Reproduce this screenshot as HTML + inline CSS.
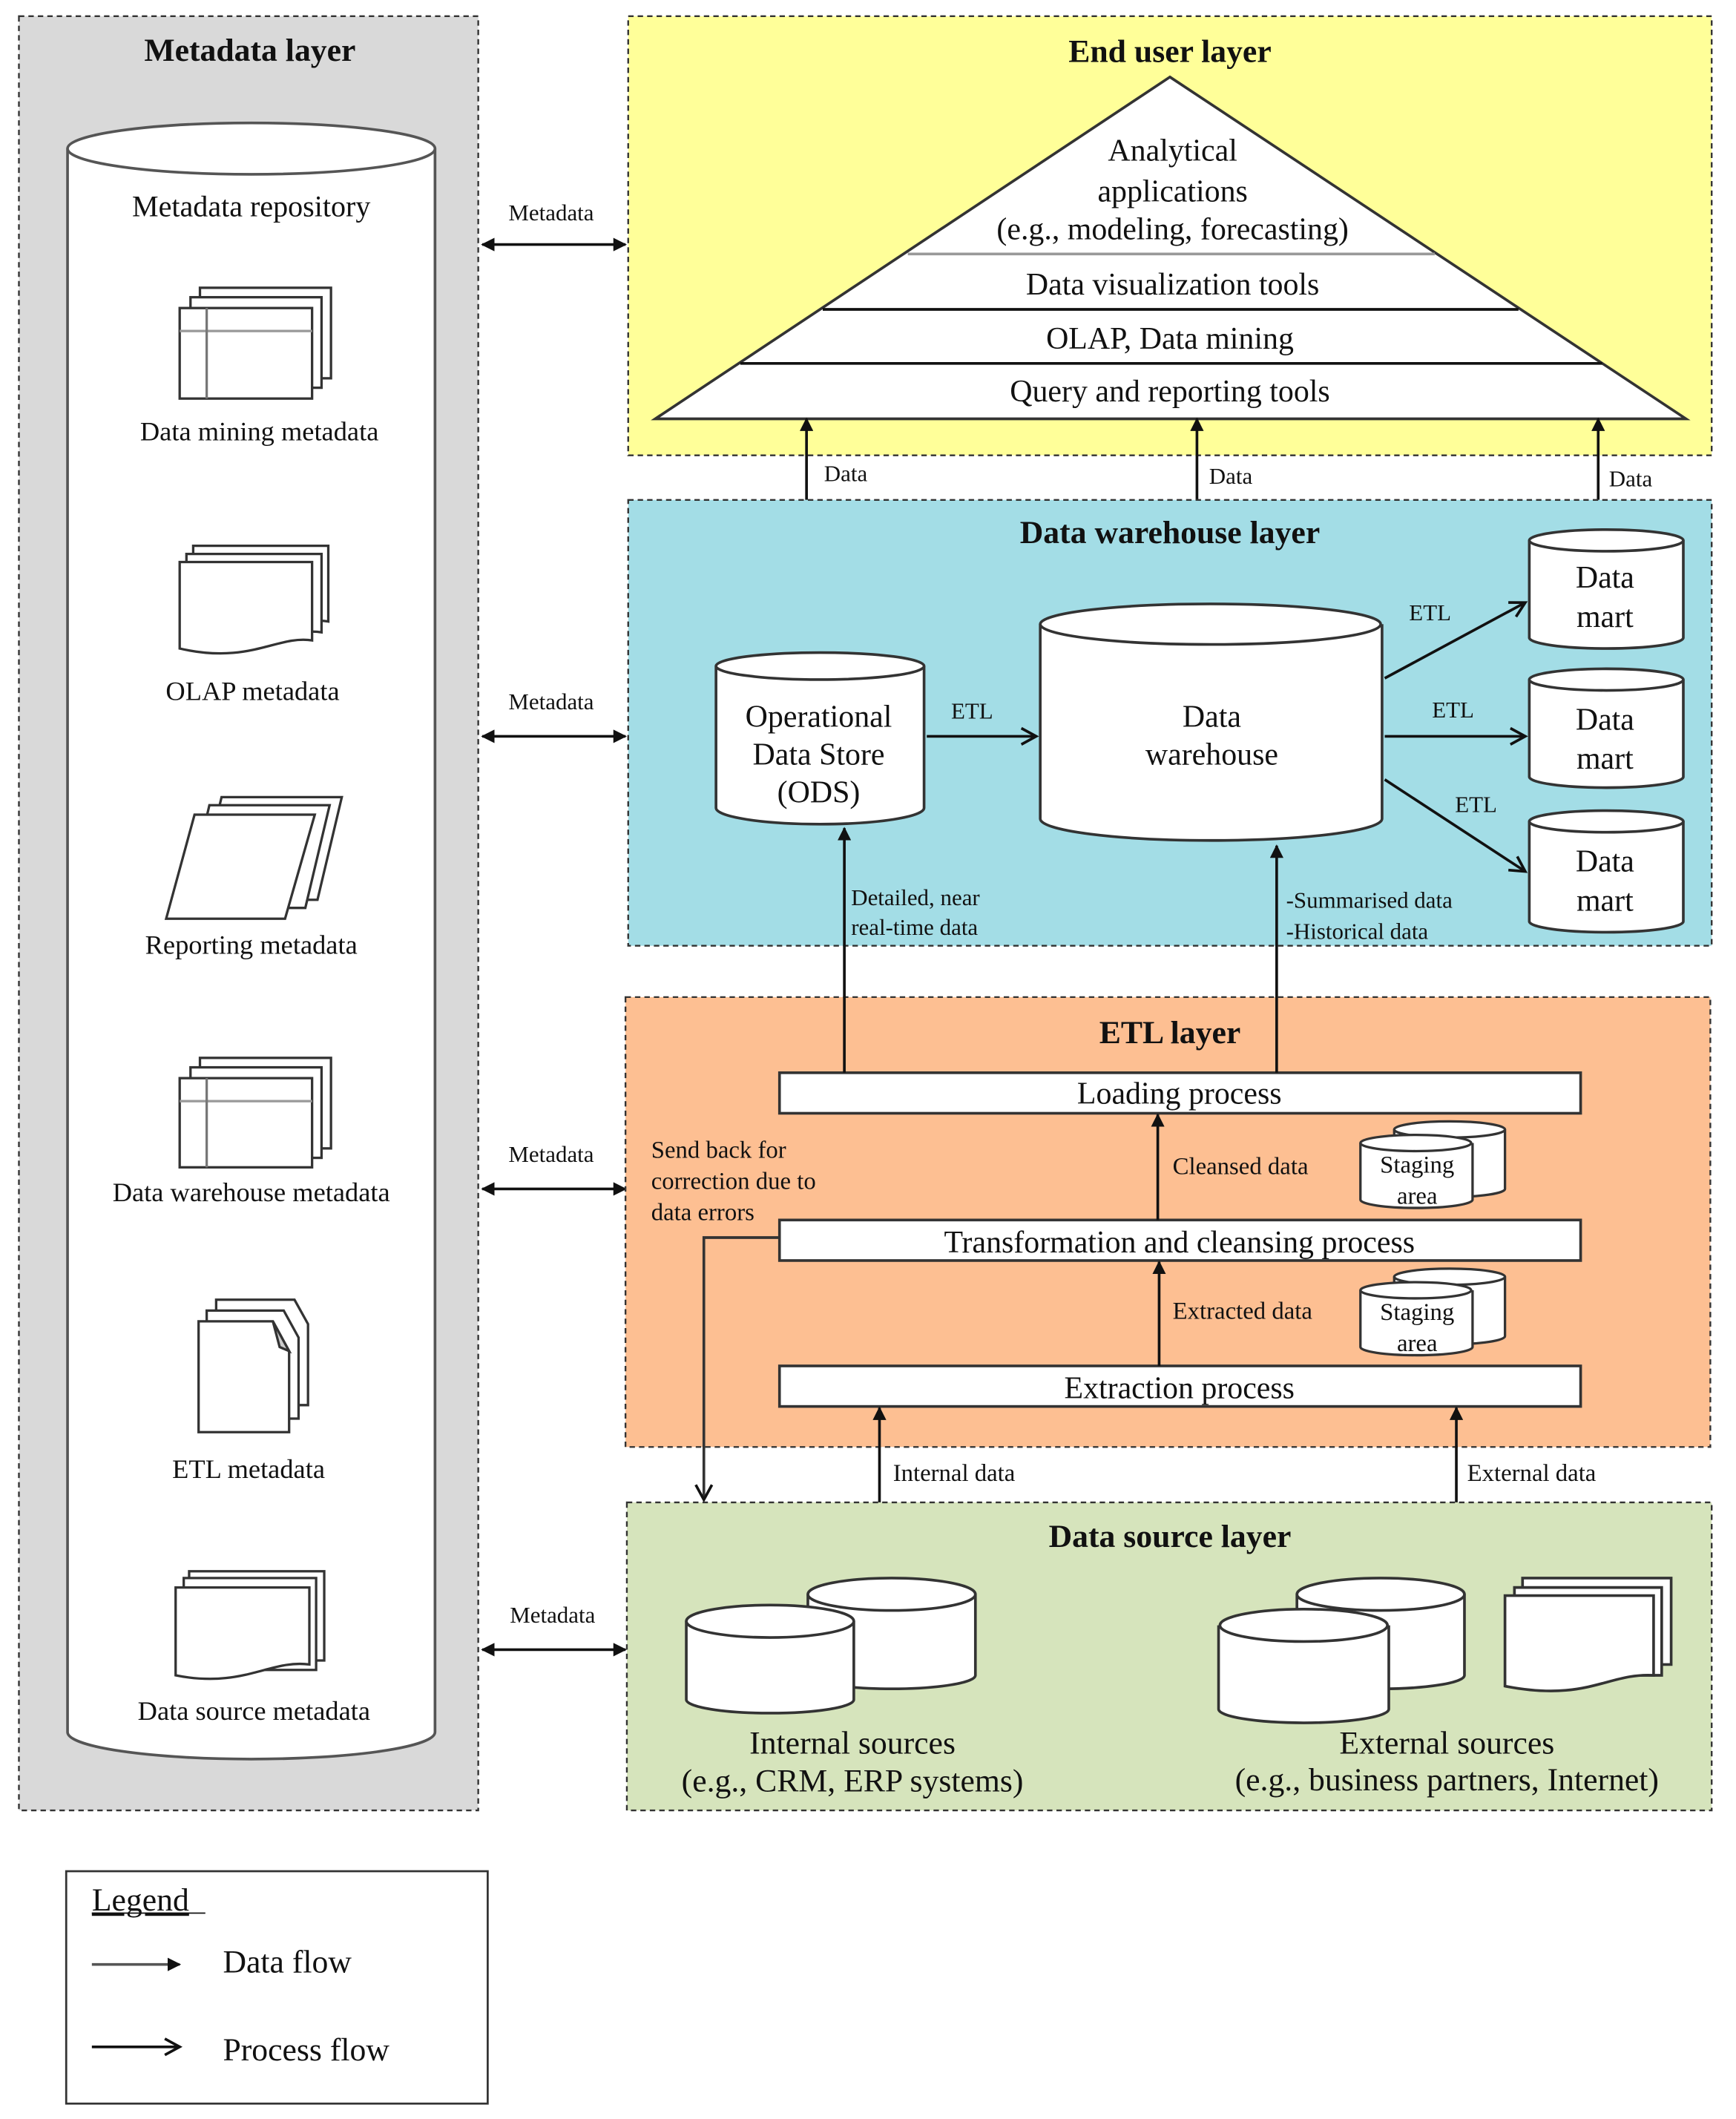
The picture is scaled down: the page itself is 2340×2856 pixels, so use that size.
<!DOCTYPE html>
<html><head><meta charset="utf-8"><style>
html,body{margin:0;padding:0;background:#fff;}
svg{display:block;}
text{font-family:"Liberation Serif",serif;fill:#111;}
</style></head><body>
<svg width="2340" height="2856" viewBox="0 0 1285 1568.4" preserveAspectRatio="none" xmlns="http://www.w3.org/2000/svg">
<defs>
<marker id="ah" markerWidth="10" markerHeight="10" refX="9" refY="5" orient="auto-start-reverse" markerUnits="userSpaceOnUse"><path d="M0,0 L10,5 L0,10 Z" fill="#111"/></marker>
<marker id="oh" markerWidth="14" markerHeight="14" refX="12" refY="7" orient="auto-start-reverse" markerUnits="userSpaceOnUse"><path d="M1,1 L12,7 L1,13" fill="none" stroke="#111" stroke-width="2"/></marker>
</defs>

<!-- Metadata layer -->
<rect x="14" y="12" width="340" height="1328" fill="#d9d9d9" stroke="#333" stroke-dasharray="4,3" stroke-width="1.3"/>
<text x="185" y="45" font-size="24" font-weight="bold" text-anchor="middle">Metadata layer</text>
<path d="M50,110 V1282 A136,20 0 0 0 322,1282 V110" fill="#fff" stroke="#555" stroke-width="2"/>
<ellipse cx="186" cy="110" rx="136" ry="19" fill="#fff" stroke="#555" stroke-width="2"/>
<text x="186" y="160" font-size="22" text-anchor="middle">Metadata repository</text>

<g fill="#fff" stroke="#333" stroke-width="1.8">
<rect x="148" y="213" width="97" height="67"/><rect x="141" y="220" width="97" height="67"/><rect x="133" y="228" width="98" height="67"/>
<line x1="133" y1="245" x2="231" y2="245" stroke="#999"/><line x1="153" y1="228" x2="153" y2="295" stroke="#777"/>
</g>
<text x="192" y="326" font-size="20" text-anchor="middle">Data mining metadata</text>

<g fill="#fff" stroke="#333" stroke-width="1.8">
<path d="M143,404 H243 V460 C220,456 200,475 143,465 Z"/>
<path d="M138,410 H238 V468 C215,464 195,483 138,472 Z"/>
<path d="M133,416 H231 V474 C205,470 185,492 133,480 Z"/>
</g>
<text x="187" y="518" font-size="20" text-anchor="middle">OLAP metadata</text>

<g fill="#fff" stroke="#333" stroke-width="1.8">
<path d="M164,590 H253 L235,666 H146 Z"/>
<path d="M155,596 H244 L226,672 H137 Z"/>
<path d="M144,603 H233 L211,680 H123 Z"/>
</g>
<text x="186" y="706" font-size="20" text-anchor="middle">Reporting metadata</text>

<g fill="#fff" stroke="#333" stroke-width="1.8">
<rect x="148" y="783" width="97" height="67"/><rect x="141" y="790" width="97" height="67"/><rect x="133" y="798" width="98" height="66"/>
<line x1="133" y1="815" x2="231" y2="815" stroke="#999"/><line x1="153" y1="798" x2="153" y2="864" stroke="#777"/>
</g>
<text x="186" y="889" font-size="20" text-anchor="middle">Data warehouse metadata</text>

<g fill="#fff" stroke="#333" stroke-width="1.8">
<path d="M160,962 H218 L228,980 V1040 H160 Z"/>
<path d="M153,970 H210 L221,990 V1050 H153 Z"/>
<path d="M147,978 H202 L214,1000 V1060 H147 Z"/>
<path d="M202,978 L207,997 L214,1000 Z" fill="#ccc"/>
</g>
<text x="184" y="1094" font-size="20" text-anchor="middle">ETL metadata</text>

<g fill="#fff" stroke="#333" stroke-width="1.8">
<path d="M140,1163 H240 V1229 L140,1229 Z"/>
<path d="M136,1168 H234 V1236 L136,1236 Z"/>
<path d="M130,1175 H229 V1232 C200,1228 180,1250 130,1240 Z"/>
</g>
<text x="188" y="1273" font-size="20" text-anchor="middle">Data source metadata</text>

<g stroke="#111" stroke-width="2" marker-start="url(#ah)" marker-end="url(#ah)">
<line x1="357" y1="181" x2="463" y2="181"/>
<line x1="357" y1="545" x2="463" y2="545"/>
<line x1="357" y1="880" x2="463" y2="880"/>
<line x1="357" y1="1221" x2="463" y2="1221"/>
</g>
<g font-size="17" text-anchor="middle">
<text x="408" y="163">Metadata</text><text x="408" y="525">Metadata</text>
<text x="408" y="860">Metadata</text><text x="409" y="1201">Metadata</text>
</g>

<rect x="465" y="12" width="802" height="325" fill="#ffff99" stroke="#333" stroke-dasharray="4,3" stroke-width="1.3"/>
<text x="866" y="46" font-size="24" font-weight="bold" text-anchor="middle">End user layer</text>
<path d="M866,57 L1248,310 H485 Z" fill="#fff" stroke="#333" stroke-width="2"/>
<line x1="672" y1="188" x2="1062" y2="188" stroke="#999" stroke-width="2"/>
<line x1="609" y1="229" x2="1124" y2="229" stroke="#111" stroke-width="2"/>
<line x1="548" y1="269" x2="1186" y2="269" stroke="#111" stroke-width="2"/>
<g font-size="23" text-anchor="middle">
<text x="868" y="119">Analytical</text>
<text x="868" y="149">applications</text>
<text x="868" y="177">(e.g., modeling, forecasting)</text>
<text x="868" y="218">Data visualization tools</text>
<text x="866" y="258">OLAP, Data mining</text>
<text x="866" y="297">Query and reporting tools</text>
</g>

<g stroke="#111" stroke-width="2" marker-end="url(#ah)">
<line x1="597" y1="370" x2="597" y2="310"/>
<line x1="886" y1="370" x2="886" y2="310"/>
<line x1="1183" y1="370" x2="1183" y2="310"/>
</g>
<g font-size="17"><text x="610" y="356">Data</text><text x="895" y="358">Data</text><text x="1191" y="360">Data</text></g>

<rect x="465" y="370" width="802" height="330" fill="#a3dde6" stroke="#333" stroke-dasharray="4,3" stroke-width="1.3"/>
<text x="866" y="402" font-size="24" font-weight="bold" text-anchor="middle">Data warehouse layer</text>
<path d="M530,493 V598 A77,12 0 0 0 684,598 V493" fill="#fff" stroke="#333" stroke-width="2"/>
<ellipse cx="607" cy="493" rx="77" ry="10" fill="#fff" stroke="#333" stroke-width="2"/>
<g font-size="23" text-anchor="middle"><text x="606" y="538">Operational</text><text x="606" y="566">Data Store</text><text x="606" y="594">(ODS)</text></g>
<path d="M770,462 V606 A126,16 0 0 0 1023,606 V462" fill="#fff" stroke="#333" stroke-width="2"/>
<ellipse cx="896" cy="462" rx="126" ry="15" fill="#fff" stroke="#333" stroke-width="2"/>
<g font-size="23" text-anchor="middle"><text x="897" y="538">Data</text><text x="897" y="566">warehouse</text></g>
<g fill="#fff" stroke="#333" stroke-width="2">
<path d="M1132,400 V472 A57,8 0 0 0 1246,472 V400"/><ellipse cx="1189" cy="400" rx="57" ry="8"/>
<path d="M1132,503 V575 A57,8 0 0 0 1246,575 V503"/><ellipse cx="1189" cy="503" rx="57" ry="8"/>
<path d="M1132,608 V682 A57,8 0 0 0 1246,682 V608"/><ellipse cx="1189" cy="608" rx="57" ry="8"/>
</g>
<g font-size="23" text-anchor="middle">
<text x="1188" y="435">Data</text><text x="1188" y="464">mart</text>
<text x="1188" y="540">Data</text><text x="1188" y="569">mart</text>
<text x="1188" y="645">Data</text><text x="1188" y="674">mart</text>
</g>
<g stroke="#111" stroke-width="2" marker-end="url(#oh)">
<line x1="686" y1="545" x2="767" y2="545"/>
<line x1="1025" y1="502" x2="1129" y2="446"/>
<line x1="1025" y1="545" x2="1129" y2="545"/>
<line x1="1025" y1="577" x2="1129" y2="645"/>
</g>
<g font-size="17"><text x="704" y="532">ETL</text><text x="1043" y="459">ETL</text><text x="1060" y="531">ETL</text><text x="1077" y="601">ETL</text></g>
<g font-size="17">
<text x="630" y="670">Detailed, near</text><text x="630" y="692">real-time data</text>
<text x="952" y="672">-Summarised data</text><text x="952" y="695">-Historical data</text>
</g>

<rect x="463" y="738" width="803" height="333" fill="#fdbf92" stroke="#333" stroke-dasharray="4,3" stroke-width="1.3"/>
<text x="866" y="772" font-size="24" font-weight="bold" text-anchor="middle">ETL layer</text>
<g fill="#fff" stroke="#333" stroke-width="2">
<rect x="577" y="794" width="593" height="30"/>
<rect x="577" y="903" width="593" height="30"/>
<rect x="577" y="1011" width="593" height="30"/>
</g>
<g font-size="23" text-anchor="middle">
<text x="873" y="817">Loading process</text>
<text x="873" y="927">Transformation and cleansing process</text>
<text x="873" y="1035">Extraction process</text>
</g>
<g stroke="#111" stroke-width="2" marker-end="url(#ah)">
<line x1="625" y1="794" x2="625" y2="613"/>
<line x1="945" y1="794" x2="945" y2="626"/>
<line x1="857" y1="903" x2="857" y2="825"/>
<line x1="858" y1="1011" x2="858" y2="934"/>
<line x1="651" y1="1112" x2="651" y2="1042"/>
<line x1="1078" y1="1112" x2="1078" y2="1042"/>
</g>
<g fill="#fff" stroke="#333" stroke-width="1.8">
<path d="M1032,836 V880 A41,6 0 0 0 1114,880 V836"/><ellipse cx="1073" cy="836" rx="41" ry="6"/>
<path d="M1007,846 V888 A41,6 0 0 0 1090,888 V846"/><ellipse cx="1048" cy="846" rx="41" ry="6"/>
<path d="M1032,945 V989 A41,6 0 0 0 1114,989 V945"/><ellipse cx="1073" cy="945" rx="41" ry="6"/>
<path d="M1007,955 V997 A41,6 0 0 0 1090,997 V955"/><ellipse cx="1048" cy="955" rx="41" ry="6"/>
</g>
<g font-size="18" text-anchor="middle">
<text x="1049" y="868">Staging</text><text x="1049" y="891">area</text>
<text x="1049" y="977">Staging</text><text x="1049" y="1000">area</text>
</g>
<g font-size="18">
<text x="868" y="869">Cleansed data</text>
<text x="868" y="976">Extracted data</text>
<text x="482" y="857">Send back for</text>
<text x="482" y="880">correction due to</text>
<text x="482" y="903">data errors</text>
</g>
<path d="M577,916 H521 V1110" fill="none" stroke="#333" stroke-width="2" marker-end="url(#oh)"/>
<g font-size="18"><text x="661" y="1096">Internal data</text><text x="1086" y="1096">External data</text></g>

<rect x="464" y="1112" width="803" height="228" fill="#d6e4bc" stroke="#333" stroke-dasharray="4,3" stroke-width="1.3"/>
<text x="866" y="1145" font-size="24" font-weight="bold" text-anchor="middle">Data source layer</text>
<g fill="#fff" stroke="#333" stroke-width="2">
<path d="M598,1180 V1240 A62,10 0 0 0 722,1240 V1180"/><ellipse cx="660" cy="1180" rx="62" ry="12"/>
<path d="M508,1200 V1258 A62,10 0 0 0 632,1258 V1200"/><ellipse cx="570" cy="1200" rx="62" ry="12"/>
<path d="M960,1180 V1240 A62,10 0 0 0 1084,1240 V1180"/><ellipse cx="1022" cy="1180" rx="62" ry="12"/>
<path d="M902,1203 V1265 A62,10 0 0 0 1028,1265 V1203"/><ellipse cx="965" cy="1203" rx="62" ry="12"/>
<path d="M1127,1168 H1237 V1232 H1127 Z"/>
<path d="M1121,1175 H1230 V1240 H1121 Z"/>
<path d="M1114,1181 H1224 V1240 C1190,1238 1175,1260 1114,1248 Z"/>
</g>
<g font-size="24" text-anchor="middle">
<text x="631" y="1298">Internal sources</text>
<text x="631" y="1326">(e.g., CRM, ERP systems)</text>
<text x="1071" y="1298">External sources</text>
<text x="1071" y="1325">(e.g., business partners, Internet)</text>
</g>

<rect x="49" y="1385" width="312" height="172" fill="#fff" stroke="#333" stroke-width="1.5"/>
<text x="68" y="1414" font-size="24" text-decoration="underline">Legend</text>
<line x1="68" y1="1416" x2="152" y2="1416" stroke="#111" stroke-width="1"/>
<line x1="68" y1="1454" x2="133" y2="1454" stroke="#555" stroke-width="2" marker-end="url(#ah)"/>
<text x="165" y="1460" font-size="24">Data flow</text>
<line x1="68" y1="1515" x2="133" y2="1515" stroke="#111" stroke-width="2" marker-end="url(#oh)"/>
<text x="165" y="1525" font-size="24">Process flow</text>
</svg>
</body></html>
